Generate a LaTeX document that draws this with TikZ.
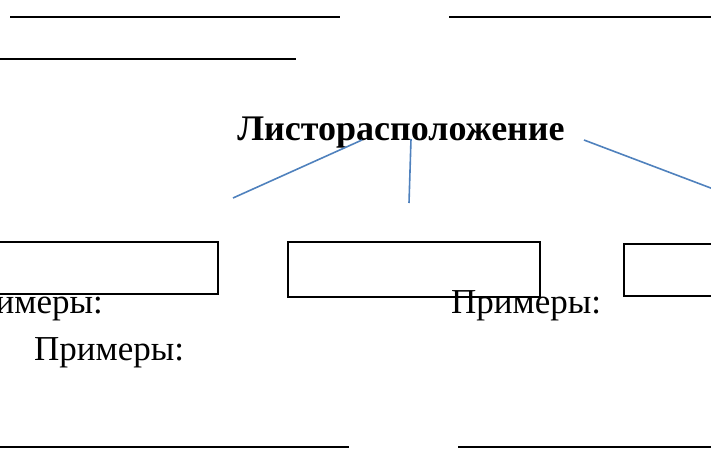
\documentclass[tikz,border=0pt]{standalone}
\usepackage{fontspec}
\setmainfont{Liberation Serif}
\definecolor{officeblue}{RGB}{79,129,189}
\tikzset{
  rule/.style={line width=1.8pt, black},
  conn/.style={line width=1.6pt, officeblue},
  emptybox/.style={draw, line width=1.8pt, inner sep=0pt},
  ex/.style={inner sep=0pt, font=\fontsize{35}{40}\selectfont},
}
\begin{document}
\begin{tikzpicture}[x=1pt,y=-1pt]
\useasboundingbox (0,0) rectangle (711,471);
% top rules
\coordinate (r1a) at (10,17);  \coordinate (r1b) at (340,17);
\coordinate (r2a) at (449,17); \coordinate (r2b) at (720,17);
\coordinate (r3a) at (-5,59);  \coordinate (r3b) at (296,59);
\draw[rule] (r1a) -- (r1b);
\draw[rule] (r2a) -- (r2b);
\draw[rule] (r3a) -- (r3b);
% title
\node[inner sep=0pt, anchor=base, font=\fontsize{36}{40}\selectfont\bfseries] (title) at (401,140) {Листорасположение};
% connectors
\coordinate (c1a) at (362,140); \coordinate (c1b) at (233,198);
\coordinate (c2a) at (411,139); \coordinate (c2b) at (409,203);
\coordinate (c3a) at (584,140); \coordinate (c3b) at (716,190);
\draw[conn] (c1a) -- (c1b);
\draw[conn] (c2a) -- (c2b);
\draw[conn] (c3a) -- (c3b);
% boxes
\node[emptybox, minimum width=237pt, minimum height=52pt, anchor=north west] (box1) at (-20,241) {};
\node[emptybox, minimum width=252pt, minimum height=55pt, anchor=north west] (box2) at (287,241) {};
\node[emptybox, minimum width=110pt, minimum height=52pt, anchor=north west] (box3) at (623,243) {};
% examples
\node[ex, anchor=base east] (ex1) at (103,313) {Примеры:};
\node[ex, anchor=base west] (ex2) at (451,313) {Примеры:};
\node[ex, anchor=base west] (ex3) at (34,360) {Примеры:};
% bottom rules
\coordinate (b1a) at (-5,447);  \coordinate (b1b) at (349,447);
\coordinate (b2a) at (458,447); \coordinate (b2b) at (720,447);
\draw[rule] (b1a) -- (b1b);
\draw[rule] (b2a) -- (b2b);
\end{tikzpicture}
\end{document}
